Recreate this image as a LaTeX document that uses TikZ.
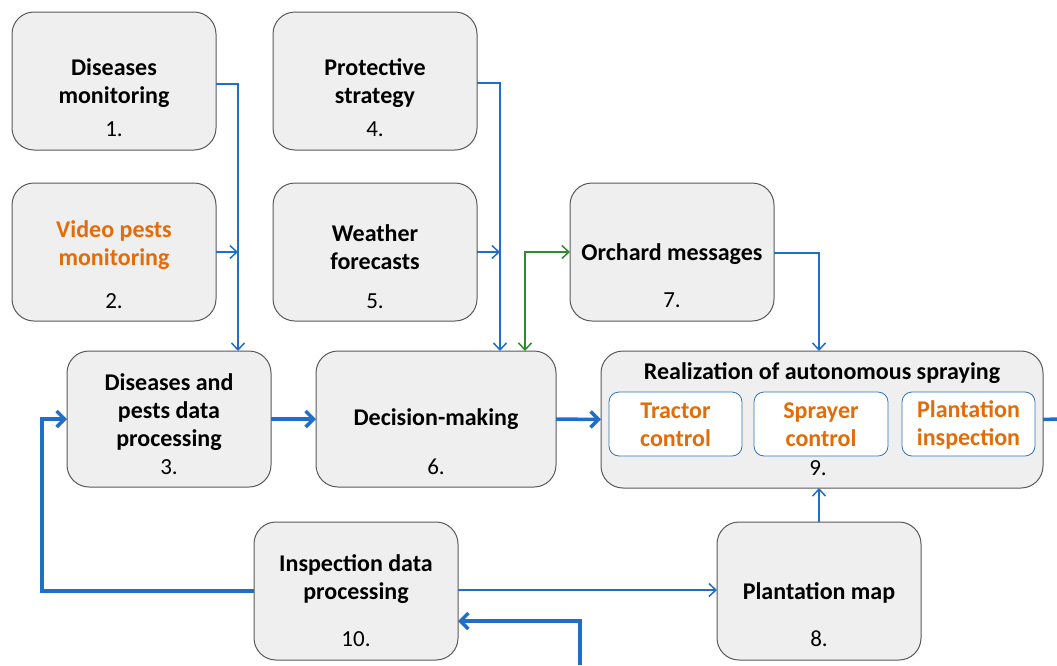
\documentclass[tikz,border=0pt]{standalone}
\usepackage{fontspec}
\setmainfont{Carlito}
\usetikzlibrary{arrows.meta}
\definecolor{boxfill}{HTML}{EFEFEF}
\definecolor{boxline}{HTML}{595959}
\definecolor{lblue}{HTML}{1F6FC8}
\definecolor{ibox}{HTML}{2E75B6}
\definecolor{orng}{HTML}{E36C09}
\definecolor{grn}{HTML}{2E8B2E}
\tikzset{
  box/.style={draw=boxline, fill=boxfill, rounded corners=22pt, line width=1pt, inner sep=0pt, outer sep=0pt, minimum width=204pt, minimum height=138pt},
  inbox/.style={draw=ibox, fill=white, rounded corners=10pt, line width=0.8pt, inner sep=0pt, outer sep=0pt, minimum width=133pt, minimum height=64pt},
  title/.style={font=\fontsize{24}{28}\selectfont\bfseries, align=center, inner sep=0pt},
  otitle/.style={title, text=orng},
  num/.style={font=\fontsize{23}{26}\selectfont, inner sep=0pt},
  thinarr/.style={draw=lblue, line width=1.5pt, -{Straight Barb[length=7pt,width=13pt]}},
  thinline/.style={draw=lblue, line width=1.5pt},
  thickarr/.style={draw=lblue, line width=3.5pt, -{Straight Barb[length=8pt,width=16pt]}},
  thickline/.style={draw=lblue, line width=3.5pt},
  grnarr/.style={draw=grn, line width=1.5pt, {Straight Barb[length=7pt,width=13pt]}-{Straight Barb[length=7pt,width=13pt]}}
}
\begin{document}
\begin{tikzpicture}[x=1pt,y=-1pt]
\useasboundingbox (0,0) rectangle (1057,665);
% boxes
\node[box] (b1) at (114,81) {};
\node[box] (b4) at (375,81) {};
\node[box] (b2) at (114,252) {};
\node[box] (b5) at (375,252) {};
\node[box] (b7) at (672,252) {};
\node[box, minimum height=136pt] (b3) at (169,419) {};
\node[box, minimum width=240pt, minimum height=136pt] (b6) at (436,419) {};
\node[box, minimum width=442pt, minimum height=137pt] (b9) at (822,419.5) {};
\node[box] (b10) at (356,591) {};
\node[box] (b8) at (819,591) {};
% texts
\node[title] (t1) at (114,83) {Diseases\\monitoring};
\node[num] (n1) at (114,129) {1.};
\node[title] (t4) at (375,83) {Protective\\strategy};
\node[num] (n4) at (375,129) {4.};
\node[otitle] (t2) at (114,245) {Video pests\\monitoring};
\node[num] (n2) at (114,301) {2.};
\node[title] (t5) at (375,247) {Weather\\forecasts};
\node[num] (n5) at (375,301) {5.};
\node[title] (t7) at (672,254) {Orchard messages};
\node[num] (n7) at (672,300) {7.};
\node[title] (t3) at (169,412) {Diseases and\\pests data\\processing};
\node[num] (n3) at (169,467) {3.};
\node[title] (t6) at (436,419) {Decision-making};
\node[num] (n6) at (436,467) {6.};
\node[title] (t9) at (822,373) {Realization of autonomous spraying};
\node[num] (n9) at (818,468) {9.};
\node[title] (t10) at (356,579) {Inspection data\\processing};
\node[num] (n10) at (356,639) {10.};
\node[title] (t8) at (819,593) {Plantation map};
\node[num] (n8) at (819,639) {8.};
% inner boxes
\node[inbox] (i1) at (675.5,424) {};
\node[inbox, minimum width=134pt] (i2) at (821,424) {};
\node[inbox] (i3) at (968.5,424) {};
\node[otitle] at ([yshift=-1pt]i1) {Tractor\\control};
\node[otitle] at ([yshift=-1pt]i2) {Sprayer\\control};
\node[otitle] at ([yshift=-1pt]i3) {Plantation\\inspection};
% connectors
\coordinate (bus1) at ([xshift=69pt]b3.north);
\coordinate (bus2) at ([xshift=64pt]b6.north);
\coordinate (gdown) at ([xshift=89pt]b6.north);
\coordinate (out1) at (1057,419);
\coordinate (in1) at (580,665);
\coordinate (loopx) at (42,0);
\draw[thinarr] ([yshift=-3pt]b1.east) -| (bus1);
\draw[thinarr] (b2.east) -- (b2.east -| bus1);
\draw[thinarr] ([yshift=-2pt]b4.east) -| (bus2);
\draw[thinarr] (b5.east) -- (b5.east -| bus2);
\draw[grnarr] (b7.west) -| (gdown);
\draw[thinarr] ([yshift=-1pt]b7.east) -| (b8.north |- b9.north);
\draw[thinarr] (b8.north) -- (b8.north |- b9.south);
\draw[thinarr] ([yshift=1pt]b10.east) -- ([yshift=1pt]b8.west);
\draw[thickarr] (b3.east) -- (b6.west);
\draw[thickarr] (b6.east) -- (b9.west);
\draw[thickline] (b9.east) -- (out1);
\draw[thickarr] (in1) |- ([yshift=-30pt]b10.east);
\draw[thickarr] (b10.west) -- (b10.west -| loopx) |- (b3.west);
\end{tikzpicture}
\end{document}
